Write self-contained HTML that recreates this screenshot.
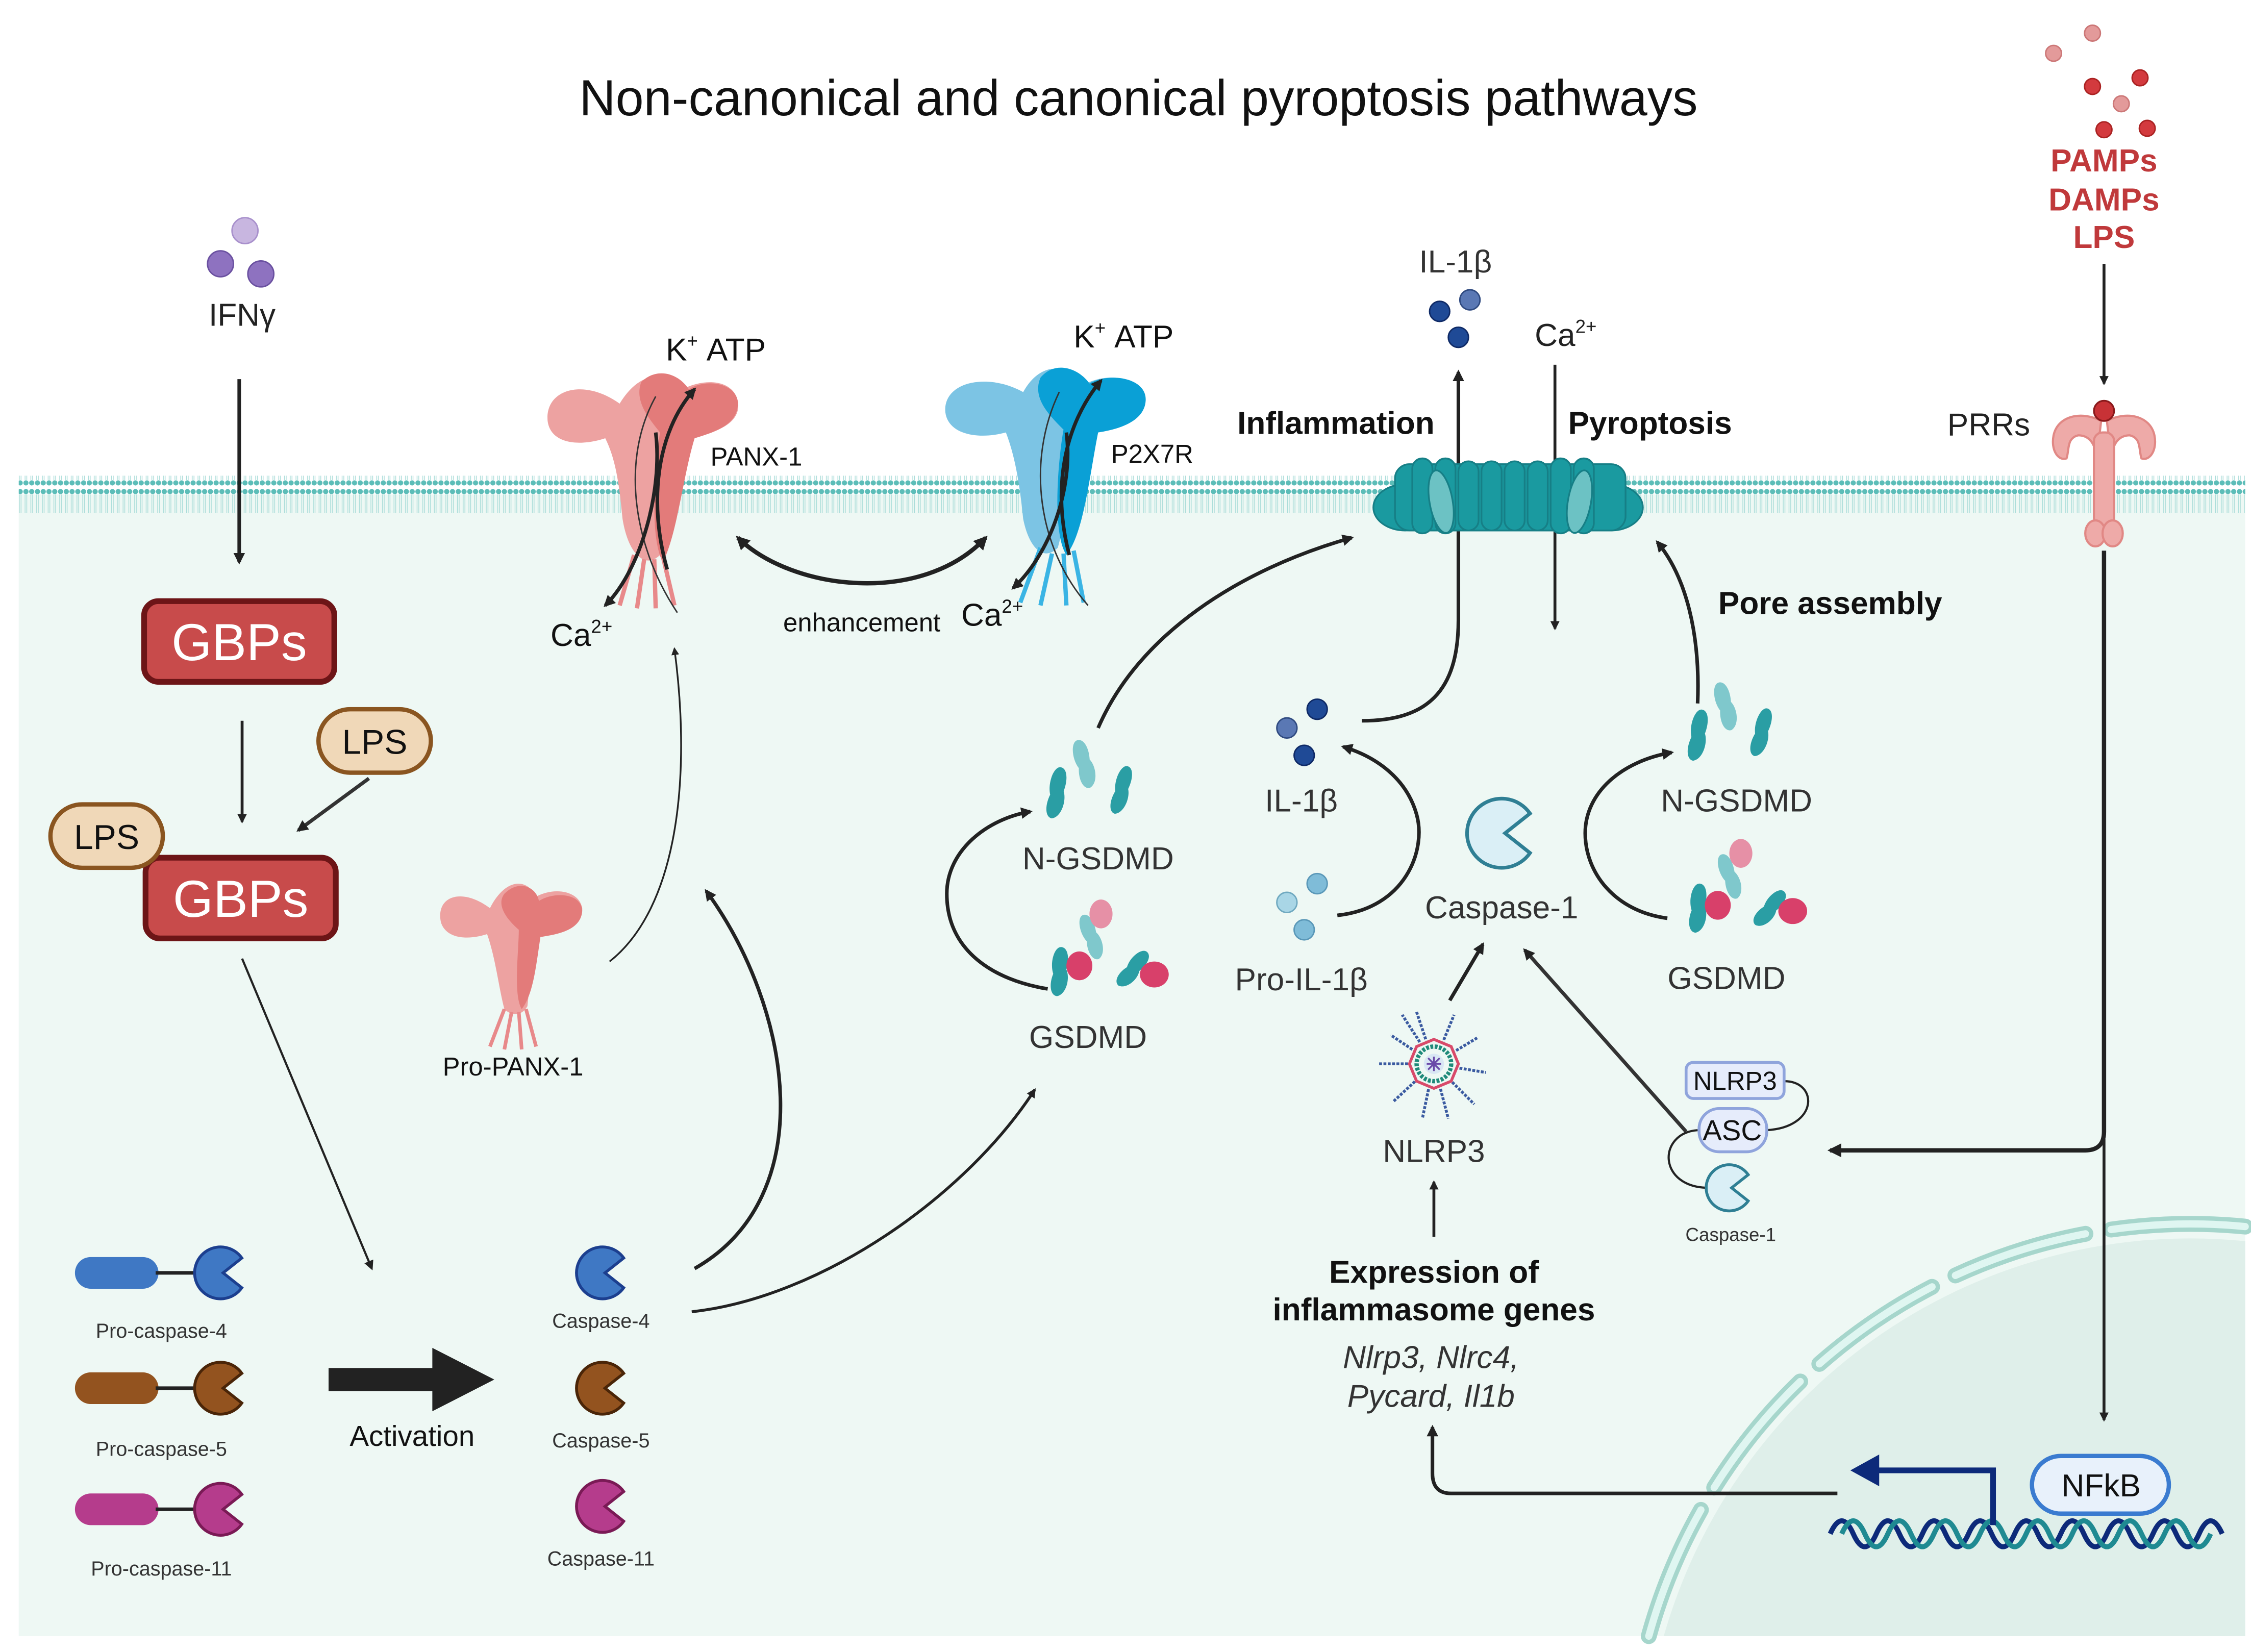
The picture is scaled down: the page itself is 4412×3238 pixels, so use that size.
<!DOCTYPE html>
<html><head><meta charset="utf-8"><style>
html,body{margin:0;padding:0;background:#fff;width:4412px;height:3238px;overflow:hidden;}
svg{display:block;position:absolute;left:0;top:0;}
text{font-family:"Liberation Sans",sans-serif;}
</style></head><body>
<svg width="4412" height="3238" viewBox="0 0 1562 1146" preserveAspectRatio="none" xmlns="http://www.w3.org/2000/svg">
<defs>
<marker id="ah" viewBox="0 0 10 10" refX="8" refY="5" markerWidth="4.5" markerHeight="4.5" orient="auto-start-reverse"><path d="M0,0 L10,5 L0,10 Z" fill="#222"/></marker>
<marker id="ahb" viewBox="0 0 10 10" refX="8" refY="5" markerWidth="3.2" markerHeight="3.2" orient="auto-start-reverse"><path d="M0,0 L10,5 L0,10 Z" fill="#222"/></marker>
<pattern id="mem" x="0" y="0" width="4" height="26" patternUnits="userSpaceOnUse">
<circle cx="2" cy="3" r="1.8" fill="#5cbdb8"/>
<circle cx="2" cy="23" r="1.8" fill="#5cbdb8"/>
<line x1="1.4" y1="5" x2="1.4" y2="21" stroke="#a8dcd8" stroke-width="0.5"/>
<line x1="2.6" y1="5" x2="2.6" y2="21" stroke="#a8dcd8" stroke-width="0.5"/>
</pattern>
<g id="nblob"><path d="M0,-18 C6,-18 8,-10 6,-2 C10,4 8,16 0,18 C-6,18 -8,10 -5,2 C-9,-6 -6,-18 0,-18Z"/></g>
</defs>
<rect width="1562" height="1146" fill="#fff"/>
<rect x="13" y="343" width="1545" height="792" fill="#eef8f4"/>
<path d="M1154.5,1135 A380 380 0 0 1 1558,861 L1558,1135 Z" fill="#dfefea"/>
<path d="M1144.1,1135 A390 390 0 0 1 1558,850.9" fill="none" stroke="#a6d6cc" stroke-width="11" stroke-dasharray="95 18" stroke-linecap="round"/>
<path d="M1144.1,1135 A390 390 0 0 1 1558,850.9" fill="none" stroke="#dff6f1" stroke-width="5" stroke-dasharray="95 18" stroke-linecap="round"/>
<rect x="13" y="330" width="1545" height="26" fill="url(#mem)"/>

<text x="790" y="80" font-size="35" text-anchor="middle" fill="#111">Non-canonical and canonical pyroptosis pathways</text>

<g>
<circle cx="1452" cy="23" r="5.5" fill="#e39a9a" stroke="#c77" stroke-width="1"/>
<circle cx="1425" cy="37" r="5.5" fill="#e39a9a" stroke="#c77" stroke-width="1"/>
<circle cx="1485" cy="54" r="5.5" fill="#d33a3e" stroke="#a22" stroke-width="1"/>
<circle cx="1452" cy="60" r="5.5" fill="#d33a3e" stroke="#a22" stroke-width="1"/>
<circle cx="1472" cy="72" r="5.5" fill="#e39a9a" stroke="#c77" stroke-width="1"/>
<circle cx="1460" cy="90" r="5.5" fill="#d33a3e" stroke="#a22" stroke-width="1"/>
<circle cx="1490" cy="89" r="5.5" fill="#d33a3e" stroke="#a22" stroke-width="1"/>
</g>
<text x="1460" y="119" font-size="22" font-weight="bold" fill="#c0393b" text-anchor="middle">PAMPs</text>
<text x="1460" y="146" font-size="22" font-weight="bold" fill="#c0393b" text-anchor="middle">DAMPs</text>
<text x="1460" y="172" font-size="22" font-weight="bold" fill="#c0393b" text-anchor="middle">LPS</text>
<line x1="1460" y1="183" x2="1460" y2="266" stroke="#222" stroke-width="2" marker-end="url(#ahb)"/>
<text x="1380" y="302" font-size="22" fill="#222" text-anchor="middle">PRRs</text>
<g fill="#eeaaa8" stroke="#e18885" stroke-width="1.5">
<path d="M1458,292 C1445,285 1428,288 1425,302 C1423,312 1428,320 1434,318 C1436,312 1434,304 1442,302 C1450,302 1454,308 1455,318 Z"/>
<path d="M1462,292 C1475,285 1492,288 1495,302 C1497,312 1492,320 1486,318 C1484,312 1486,304 1478,302 C1470,302 1466,308 1465,318 Z"/>
<rect x="1453" y="300" width="14" height="65" rx="6"/>
<ellipse cx="1454" cy="370" rx="7" ry="9"/><ellipse cx="1466" cy="370" rx="7" ry="9"/>
</g>
<circle cx="1460" cy="285" r="7" fill="#c83236" stroke="#8a1a1c" stroke-width="1.2"/>
<path d="M1460,382 V785 Q1460,798 1447,798 H1270" fill="none" stroke="#222" stroke-width="3" marker-end="url(#ahb)"/>
<line x1="1460" y1="790" x2="1460" y2="985" stroke="#222" stroke-width="2" marker-end="url(#ahb)"/>

<rect x="1410" y="1010" width="95" height="40" rx="20" fill="#e8f1fb" stroke="#3a7bd0" stroke-width="3"/>
<text x="1458" y="1038" font-size="22" fill="#111" text-anchor="middle">NFkB</text>
<path d="M1270,1072 q8,-18 16,0 t16,0 t16,0 t16,0 t16,0 t16,0 t16,0 t16,0 t16,0 t16,0 t16,0 t16,0 t16,0 t16,0 t16,0 t16,0 t16,0" fill="none" stroke="#0d2a7a" stroke-width="3.5" transform="translate(0,-8)"/>
<path d="M1278,1064 q8,-18 16,0 t16,0 t16,0 t16,0 t16,0 t16,0 t16,0 t16,0 t16,0 t16,0 t16,0 t16,0 t16,0 t16,0 t16,0 t16,0" fill="none" stroke="#1f8a92" stroke-width="3.5"/>
<path d="M1383,1058 V1020 H1302" fill="none" stroke="#0d2a7a" stroke-width="4"/>
<path d="M1284,1020 L1304,1009 L1304,1031 Z" fill="#0d2a7a"/>
<path d="M1275,1036 H1007 Q994,1036 994,1022 V990" fill="none" stroke="#222" stroke-width="2.5" marker-end="url(#ahb)"/>

<text x="995" y="890" font-size="22" font-weight="bold" text-anchor="middle" fill="#111">Expression of</text>
<text x="995" y="916" font-size="22" font-weight="bold" text-anchor="middle" fill="#111">inflammasome genes</text>
<text x="993" y="949" font-size="22" font-style="italic" text-anchor="middle" fill="#333">Nlrp3, Nlrc4,</text>
<text x="993" y="976" font-size="22" font-style="italic" text-anchor="middle" fill="#333">Pycard, Il1b</text>
<line x1="995" y1="858" x2="995" y2="820" stroke="#222" stroke-width="2" marker-end="url(#ahb)"/>

<g transform="translate(995,738)">
<g stroke="#3a5aa0" stroke-width="2" stroke-dasharray="2 1">
<line x1="0" y1="0" x2="-12" y2="-36"/><line x1="0" y1="0" x2="14" y2="-34"/><line x1="0" y1="0" x2="30" y2="-18"/>
<line x1="0" y1="0" x2="36" y2="6"/><line x1="0" y1="0" x2="28" y2="28"/><line x1="0" y1="0" x2="10" y2="38"/>
<line x1="0" y1="0" x2="-8" y2="38"/><line x1="0" y1="0" x2="-28" y2="26"/><line x1="0" y1="0" x2="-38" y2="0"/>
<line x1="0" y1="0" x2="-30" y2="-20"/><line x1="0" y1="0" x2="-22" y2="-34"/>
</g>
<circle r="17" fill="#eef8f4"/>
<polygon points="0,-17 12,-12 17,0 12,12 0,17 -12,12 -17,0 -12,-12" fill="none" stroke="#d84a6a" stroke-width="2"/>
<circle r="12" fill="none" stroke="#1f8a7a" stroke-width="3" stroke-dasharray="2 1"/>
<circle r="7" fill="#d9e7f4"/>
<g stroke="#6a4aa8" stroke-width="1.2"><line x1="-5" y1="0" x2="5" y2="0"/><line x1="0" y1="-5" x2="0" y2="5"/><line x1="-4" y1="-4" x2="4" y2="4"/><line x1="-4" y1="4" x2="4" y2="-4"/></g>
</g>
<text x="995" y="806" font-size="22" text-anchor="middle" fill="#333">NLRP3</text>
<line x1="1006" y1="694" x2="1029" y2="655" stroke="#222" stroke-width="2.5" marker-end="url(#ahb)"/>
<line x1="1170" y1="785" x2="1058" y2="659" stroke="#333" stroke-width="2.5" marker-end="url(#ahb)"/>

<path d="M1061.7,564.3 A24 24 0 1 0 1061.7,591.7 L1044.4,578Z" fill="#daeff6" stroke="#2f7f94" stroke-width="2.5"/>
<text x="1042" y="637" font-size="22" text-anchor="middle" fill="#333">Caspase-1</text>

<path d="M1238,750 C1262,750 1262,782 1226,784 M1178,784 C1150,786 1150,824 1186,824" fill="none" stroke="#222" stroke-width="1.5"/>
<rect x="1170" y="737" width="68" height="25" rx="5" fill="#e6ecfb" stroke="#8fa4dc" stroke-width="2"/>
<text x="1204" y="756" font-size="18" text-anchor="middle" fill="#111">NLRP3</text>
<rect x="1179" y="769" width="47" height="30" rx="14" fill="#e6ecfb" stroke="#8fa4dc" stroke-width="2"/>
<text x="1202" y="791" font-size="20" text-anchor="middle" fill="#111">ASC</text>
<path d="M1213.1,814.9 A16 16 0 1 0 1213.1,833.1 L1201.6,824Z" fill="#daeff6" stroke="#2f7f94" stroke-width="2"/>
<text x="1201" y="861" font-size="13" text-anchor="middle" fill="#333">Caspase-1</text>

<text x="1010" y="189" font-size="22" text-anchor="middle" fill="#333">IL-1β</text>
<circle cx="999" cy="216" r="7" fill="#1f4a96" stroke="#0f2a66" stroke-width="1"/>
<circle cx="1020" cy="208" r="7" fill="#5a78b4" stroke="#2f4a80" stroke-width="1"/>
<circle cx="1012" cy="234" r="7" fill="#1f4a96" stroke="#0f2a66" stroke-width="1"/>
<path d="M945,500 C990,500 1012,480 1012,430 V258" fill="none" stroke="#222" stroke-width="2.5" marker-end="url(#ahb)"/>
<text x="1065" y="240" font-size="22" fill="#222">Ca<tspan font-size="13" dy="-9">2+</tspan></text>
<line x1="1079" y1="253" x2="1079" y2="436" stroke="#222" stroke-width="2" marker-end="url(#ahb)"/>
<text x="927" y="301" font-size="22" font-weight="bold" text-anchor="middle" fill="#111">Inflammation</text>
<text x="1145" y="301" font-size="22" font-weight="bold" text-anchor="middle" fill="#111">Pyroptosis</text>
<text x="1270" y="426" font-size="22" font-weight="bold" text-anchor="middle" fill="#111">Pore assembly</text>

<g stroke="#167f86" stroke-width="1.2" fill="#1a9aa0">
<ellipse cx="975" cy="352" rx="22" ry="16"/>
<ellipse cx="1118" cy="352" rx="22" ry="16"/>
<rect x="968" y="322" width="160" height="46" rx="10"/>
<rect x="980" y="318" width="14" height="52" rx="7"/><rect x="996" y="318" width="14" height="52" rx="7"/>
<rect x="1012" y="320" width="14" height="48" rx="7"/><rect x="1028" y="320" width="14" height="48" rx="7"/>
<rect x="1044" y="320" width="14" height="48" rx="7"/><rect x="1060" y="320" width="14" height="48" rx="7"/>
<rect x="1076" y="318" width="14" height="52" rx="7"/><rect x="1092" y="318" width="14" height="52" rx="7"/>
<ellipse cx="1000" cy="348" rx="8" ry="22" fill="#6cc2c4" transform="rotate(-10 1000 348)"/>
<ellipse cx="1096" cy="348" rx="8" ry="22" fill="#6cc2c4" transform="rotate(10 1096 348)"/>
</g>
<path d="M1178,488 C1180,440 1170,400 1150,376" fill="none" stroke="#222" stroke-width="2.5" marker-end="url(#ahb)"/>

<circle cx="893" cy="505" r="7" fill="#5a78b4" stroke="#2f4a80" stroke-width="1"/>
<circle cx="914" cy="492" r="7" fill="#1f4a96" stroke="#0f2a66" stroke-width="1"/>
<circle cx="905" cy="524" r="7" fill="#1f4a96" stroke="#0f2a66" stroke-width="1"/>
<text x="903" y="563" font-size="22" text-anchor="middle" fill="#333">IL-1β</text>
<circle cx="893" cy="626" r="7" fill="#a9d6e6" stroke="#6fa9c0" stroke-width="1"/>
<circle cx="914" cy="613" r="7" fill="#7fbcd8" stroke="#5a98b8" stroke-width="1"/>
<circle cx="905" cy="645" r="7" fill="#7fbcd8" stroke="#5a98b8" stroke-width="1"/>
<text x="903" y="687" font-size="22" text-anchor="middle" fill="#333">Pro-IL-1β</text>
<path d="M928,635 C975,630 990,590 983,565 C976,540 955,525 932,518" fill="none" stroke="#222" stroke-width="2.5" marker-end="url(#ahb)"/>

<g>
<g fill="#2a9ea4" transform="translate(1178,510) rotate(10) scale(0.8,1)"><use href="#nblob"/></g>
<g fill="#7fc8cc" transform="translate(1197,490) rotate(-15) scale(0.8,0.95)"><use href="#nblob"/></g>
<g fill="#2a9ea4" transform="translate(1222,508) rotate(15) scale(0.75,0.95)"><use href="#nblob"/></g>
</g>
<text x="1205" y="563" font-size="22" text-anchor="middle" fill="#333">N-GSDMD</text>
<g>
<g fill="#7fc8cc" transform="translate(1200,608) rotate(-20) scale(0.75,0.9)"><use href="#nblob"/></g>
<ellipse cx="1208" cy="592" rx="8" ry="10" fill="#e690a6"/>
<g fill="#2a9ea4" transform="translate(1178,630) rotate(5) scale(0.8,0.95)"><use href="#nblob"/></g>
<ellipse cx="1192" cy="628" rx="9" ry="10" fill="#d8406a"/>
<g fill="#2a9ea4" transform="translate(1228,630) rotate(40) scale(0.75,0.85)"><use href="#nblob"/></g>
<ellipse cx="1244" cy="632" rx="10" ry="9" fill="#d8406a"/>
</g>
<text x="1198" y="686" font-size="22" text-anchor="middle" fill="#333">GSDMD</text>
<path d="M1157,637 C1120,632 1100,605 1100,578 C1100,550 1125,528 1160,522" fill="none" stroke="#222" stroke-width="2.5" marker-end="url(#ahb)"/>

<g>
<g fill="#2a9ea4" transform="translate(733,550) rotate(10) scale(0.8,1)"><use href="#nblob"/></g>
<g fill="#7fc8cc" transform="translate(752,530) rotate(-15) scale(0.8,0.95)"><use href="#nblob"/></g>
<g fill="#2a9ea4" transform="translate(778,548) rotate(15) scale(0.75,0.95)"><use href="#nblob"/></g>
</g>
<text x="762" y="603" font-size="22" text-anchor="middle" fill="#333">N-GSDMD</text>
<g>
<g fill="#7fc8cc" transform="translate(757,650) rotate(-20) scale(0.75,0.9)"><use href="#nblob"/></g>
<ellipse cx="764" cy="634" rx="8" ry="10" fill="#e690a6"/>
<g fill="#2a9ea4" transform="translate(735,674) rotate(5) scale(0.8,0.95)"><use href="#nblob"/></g>
<ellipse cx="749" cy="670" rx="9" ry="10" fill="#d8406a"/>
<g fill="#2a9ea4" transform="translate(786,672) rotate(40) scale(0.75,0.85)"><use href="#nblob"/></g>
<ellipse cx="801" cy="676" rx="10" ry="9" fill="#d8406a"/>
</g>
<text x="755" y="727" font-size="22" text-anchor="middle" fill="#333">GSDMD</text>
<path d="M727,686 C690,680 657,660 657,620 C657,590 685,568 715,563" fill="none" stroke="#222" stroke-width="2.5" marker-end="url(#ahb)"/>
<path d="M762,505 C790,440 860,395 938,373" fill="none" stroke="#222" stroke-width="2.5" marker-end="url(#ahb)"/>

<g>
<path d="M430,280 C405,262 378,270 380,292 C382,308 402,310 420,304 C428,320 430,340 432,360 C436,385 448,395 458,385 C465,365 466,320 478,305 C495,300 515,295 512,278 C508,262 486,262 470,272 C465,258 445,255 430,280Z" fill="#eda2a1"/>
<path d="M445,265 C455,255 470,258 478,270 C490,262 512,266 512,280 C512,295 495,300 482,304 C474,330 470,370 460,390 C450,372 455,320 458,300 C450,290 440,278 445,265Z" fill="#e37b7a"/>
<g stroke="#e8898a" stroke-width="3" fill="none"><path d="M440,385 L430,420"/><path d="M447,388 L442,422"/><path d="M454,388 L455,422"/><path d="M460,386 L468,420"/></g>
</g>
<path d="M455,275 C430,320 440,380 470,425" fill="none" stroke="#333" stroke-width="1"/>
<path d="M455,300 C460,340 445,395 420,420" fill="none" stroke="#222" stroke-width="2.5" marker-end="url(#ahb)"/>
<path d="M463,395 C450,350 455,300 482,270" fill="none" stroke="#222" stroke-width="2.5" marker-end="url(#ahb)"/>
<text x="462" y="250" font-size="22" fill="#111">K<tspan font-size="13" dy="-9">+</tspan><tspan dy="9" dx="6">ATP</tspan></text>
<text x="493" y="323" font-size="18" fill="#111">PANX-1</text>
<text x="382" y="448" font-size="22" fill="#111">Ca<tspan font-size="13" dy="-9">2+</tspan></text>

<g>
<path d="M710,272 C685,258 654,265 656,286 C658,302 680,305 698,300 C705,318 708,340 710,360 C714,380 724,390 734,380 C740,360 742,318 752,302 C770,298 796,292 793,276 C790,260 766,258 750,268 C742,252 722,250 710,272Z" fill="#7cc4e4"/>
<path d="M722,262 C732,250 748,255 756,266 C770,258 796,262 795,278 C794,293 775,298 762,300 C756,330 752,370 740,385 C730,370 734,320 738,298 C728,288 716,276 722,262Z" fill="#0aa0d6"/>
<g stroke="#3ab4e4" stroke-width="3" fill="none"><path d="M722,380 L708,418"/><path d="M730,384 L722,420"/><path d="M738,384 L740,420"/><path d="M745,382 L752,418"/></g>
</g>
<path d="M735,272 C712,320 720,380 755,420" fill="none" stroke="#333" stroke-width="1"/>
<path d="M740,300 C745,340 728,385 703,408" fill="none" stroke="#222" stroke-width="2.5" marker-end="url(#ahb)"/>
<path d="M742,385 C730,340 738,295 764,264" fill="none" stroke="#222" stroke-width="2.5" marker-end="url(#ahb)"/>
<text x="745" y="241" font-size="22" fill="#111">K<tspan font-size="13" dy="-9">+</tspan><tspan dy="9" dx="6">ATP</tspan></text>
<text x="771" y="321" font-size="18" fill="#111">P2X7R</text>
<text x="667" y="434" font-size="22" fill="#111">Ca<tspan font-size="13" dy="-9">2+</tspan></text>
<path d="M512,373 C550,410 640,420 684,373" fill="none" stroke="#222" stroke-width="3" marker-start="url(#ahb)" marker-end="url(#ahb)"/>
<text x="598" y="438" font-size="18" text-anchor="middle" fill="#111">enhancement</text>

<g>
<path d="M340,630 C320,615 302,622 306,640 C310,652 326,652 338,648 C344,665 346,685 350,700 C355,705 362,705 366,698 C368,680 368,660 372,648 C385,650 405,645 404,630 C402,618 385,615 372,622 C365,608 350,610 340,630Z" fill="#eda2a1"/>
<path d="M350,620 C360,610 372,615 374,625 C385,618 404,620 404,632 C403,645 388,648 375,650 C372,670 370,690 362,700 C356,690 360,660 360,645 C352,638 344,628 350,620Z" fill="#e37b7a"/>
<g stroke="#e8898a" stroke-width="2.5" fill="none"><path d="M350,700 L340,726"/><path d="M355,702 L350,728"/><path d="M360,702 L362,728"/><path d="M365,700 L372,726"/></g>
</g>
<text x="356" y="746" font-size="18" text-anchor="middle" fill="#111">Pro-PANX-1</text>
<path d="M423,667 C470,630 480,540 468,450" fill="none" stroke="#222" stroke-width="1.2" marker-end="url(#ah)"/>
<path d="M482,880 C570,830 550,700 490,618" fill="none" stroke="#222" stroke-width="2.5" marker-end="url(#ahb)"/>
<path d="M480,910 C570,900 670,830 718,756" fill="none" stroke="#222" stroke-width="2" marker-end="url(#ahb)"/>

<circle cx="170" cy="160" r="9" fill="#c8b6e0" stroke="#a890cc" stroke-width="1"/>
<circle cx="153" cy="183" r="9" fill="#8e72c0" stroke="#6a50a0" stroke-width="1"/>
<circle cx="181" cy="190" r="9" fill="#8e72c0" stroke="#6a50a0" stroke-width="1"/>
<text x="168" y="226" font-size="22" text-anchor="middle" fill="#222">IFNγ</text>
<line x1="166" y1="263" x2="166" y2="390" stroke="#222" stroke-width="2.5" marker-end="url(#ahb)"/>

<rect x="100" y="417" width="132" height="56" rx="10" fill="#c84b4b" stroke="#6d1517" stroke-width="4"/>
<text x="166" y="458" font-size="36" text-anchor="middle" fill="#fff">GBPs</text>
<line x1="168" y1="500" x2="168" y2="570" stroke="#222" stroke-width="2" marker-end="url(#ahb)"/>
<rect x="221" y="492" width="78" height="44" rx="22" fill="#f0d8b8" stroke="#8a5520" stroke-width="3"/>
<text x="260" y="523" font-size="24" text-anchor="middle" fill="#111">LPS</text>
<line x1="256" y1="540" x2="207" y2="576" stroke="#333" stroke-width="2.5" marker-end="url(#ahb)"/>
<rect x="101" y="595" width="132" height="56" rx="10" fill="#c84b4b" stroke="#6d1517" stroke-width="4"/>
<text x="167" y="636" font-size="36" text-anchor="middle" fill="#fff">GBPs</text>
<rect x="35" y="558" width="78" height="44" rx="22" fill="#f0d8b8" stroke="#8a5520" stroke-width="3"/>
<text x="74" y="589" font-size="24" text-anchor="middle" fill="#111">LPS</text>
<line x1="168" y1="665" x2="258" y2="880" stroke="#222" stroke-width="1.5" marker-end="url(#ah)"/>

<rect x="52" y="872" width="58" height="22" rx="11" fill="#3f78c4"/>
<line x1="108" y1="883" x2="138" y2="883" stroke="#222" stroke-width="2.5"/>
<path d="M167.8,872.7 A18 18 0 1 0 167.8,893.3 L154.8,883Z" fill="#3f78c4" stroke="#1c3f8f" stroke-width="2"/>
<text x="112" y="928" font-size="14" text-anchor="middle" fill="#333">Pro-caspase-4</text>
<rect x="52" y="952" width="58" height="22" rx="11" fill="#93531f"/>
<line x1="108" y1="963" x2="138" y2="963" stroke="#222" stroke-width="2.5"/>
<path d="M167.8,952.7 A18 18 0 1 0 167.8,973.3 L154.8,963Z" fill="#93531f" stroke="#4a2508" stroke-width="2"/>
<text x="112" y="1010" font-size="14" text-anchor="middle" fill="#333">Pro-caspase-5</text>
<rect x="52" y="1036" width="58" height="22" rx="11" fill="#b53c8c"/>
<line x1="108" y1="1047" x2="138" y2="1047" stroke="#222" stroke-width="2.5"/>
<path d="M167.8,1036.7 A18 18 0 1 0 167.8,1057.3 L154.8,1047Z" fill="#b53c8c" stroke="#7a1a55" stroke-width="2"/>
<text x="112" y="1093" font-size="14" text-anchor="middle" fill="#333">Pro-caspase-11</text>

<rect x="228" y="949" width="74" height="16" fill="#222"/>
<path d="M300,935 L343,957 L300,979 Z" fill="#222"/>
<text x="286" y="1003" font-size="20" text-anchor="middle" fill="#111">Activation</text>

<path d="M432.8,872.7 A18 18 0 1 0 432.8,893.3 L419.8,883Z" fill="#3f78c4" stroke="#1c3f8f" stroke-width="2"/>
<text x="417" y="921" font-size="14" text-anchor="middle" fill="#333">Caspase-4</text>
<path d="M432.8,952.7 A18 18 0 1 0 432.8,973.3 L419.8,963Z" fill="#93531f" stroke="#4a2508" stroke-width="2"/>
<text x="417" y="1004" font-size="14" text-anchor="middle" fill="#333">Caspase-5</text>
<path d="M432.8,1034.7 A18 18 0 1 0 432.8,1055.3 L419.8,1045Z" fill="#b53c8c" stroke="#7a1a55" stroke-width="2"/>
<text x="417" y="1086" font-size="14" text-anchor="middle" fill="#333">Caspase-11</text>
</svg>
</body></html>
